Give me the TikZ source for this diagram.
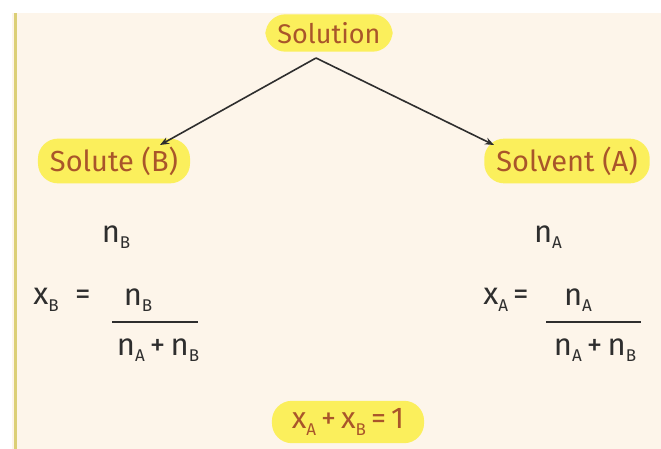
\documentclass[tikz,border=0pt]{standalone}
\usepackage{fontspec}
\setmainfont{Fira Sans}
\usetikzlibrary{shapes.geometric,arrows.meta}
\definecolor{bgc}{HTML}{FDF5EA}
\definecolor{hl}{HTML}{FBEF5C}
\definecolor{txt}{HTML}{A9552A}
\definecolor{ink}{HTML}{2E2E2E}
\definecolor{rule}{HTML}{DCCF76}
\newcommand\lowsub[1]{\raisebox{-0.4ex}{\fontsize{17}{19}\selectfont #1}}
\tikzset{
  hilite/.style={rectangle, rounded corners=20pt, fill=hl, inner xsep=12pt, inner ysep=8pt, text=txt, font=\fontsize{29}{32}\selectfont},
  mathtxt/.style={text=ink, font=\fontsize{31}{34}\selectfont},
  conn/.style={draw=ink, line width=1.6pt, -{Stealth[length=9pt,width=7pt]}},
}
\begin{document}
\begin{tikzpicture}[x=1pt,y=-1pt]
\useasboundingbox (0,0) rectangle (661,449);
\fill[white] (0,0) rectangle (661,449);
\fill[bgc] (12,13) rectangle (661,449);
\fill[rule] (14,13) rectangle (17,449);
\node[hilite, font=\fontsize{27}{30}\selectfont] (sol) at (329,33) {Solution};
\node[hilite] (solute) at (114,161) {Solute (B)};
\node[hilite] (solvent) at (567,161) {Solvent (A)};
\coordinate (top) at (316,58);
\coordinate (lend) at (160,145);
\coordinate (rend) at (494,145);
\draw[conn] (top) -- (lend);
\draw[conn] (top) -- (rend);
\node[mathtxt] (nb) at (116,237) {n\lowsub{B}};
\node[mathtxt] (na) at (548,237) {n\lowsub{A}};
\node[mathtxt] (xb) at (62,300) {x\lowsub{B}\ \ =};
\node[mathtxt] (nbnum) at (138,300) {n\lowsub{B}};
\node[mathtxt] (nbden) at (158,350) {n\lowsub{A}\,+\,n\lowsub{B}};
\draw[ink, line width=1.2pt] (112,322) -- (198,322);
\node[mathtxt] (xa) at (506,300) {x\lowsub{A}\,=};
\node[mathtxt] (nanum) at (578,300) {n\lowsub{A}};
\node[mathtxt] (naden) at (595,350) {n\lowsub{A}\,+\,n\lowsub{B}};
\draw[ink, line width=1.2pt] (546,322) -- (641,322);
\node[hilite, text=txt, font=\fontsize{30}{33}\selectfont, inner xsep=20pt] (sum) at (348,422) {x\lowsub{A}\,+\,x\lowsub{B}\,=\,1};
\end{tikzpicture}
\end{document}
